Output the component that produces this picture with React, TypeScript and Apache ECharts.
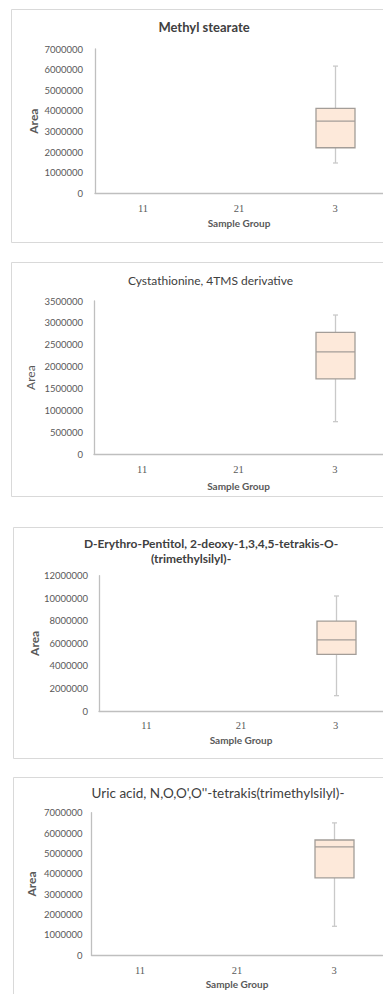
import React, { useEffect, useRef } from "react";
import * as echarts from "echarts";

const categories = ["11", "21", "3"];
const boxGroup = "3";

const titleLines = [
  ["Methyl stearate"],
  ["Cystathionine, 4TMS derivative"],
  ["D-Erythro-Pentitol, 2-deoxy-1,3,4,5-tetrakis-O-", "(trimethylsilyl)-"],
  ["Uric acid, N,O,O',O''-tetrakis(trimethylsilyl)-"],
];

// [min, Q1, median, Q3, max] for sample group "3"
const methylStearate = [1470000, 2210000, 3500000, 4120000, 6170000];
const cystathionine = [745000, 1720000, 2340000, 2785000, 3180000];
const pentitol = [1360000, 5030000, 6300000, 7980000, 10200000];
const uricAcid = [1420000, 3800000, 5320000, 5660000, 6500000];

const panelStats = [methylStearate, cystathionine, pentitol, uricAcid];
const yMax = [7000000, 3500000, 12000000, 7000000];
const yInterval = [1000000, 500000, 2000000, 1000000];

// layout (pixels)
const grids = [
  { left: 95, top: 49, width: 290, height: 144.3 },
  { left: 94, top: 301, width: 291, height: 153.3 },
  { left: 99, top: 575.7, width: 285, height: 135.3 },
  { left: 91.5, top: 812.7, width: 291, height: 142.5 },
];
const frames = [
  { x: 11, y: 9, h: 233 },
  { x: 11, y: 262, h: 234 },
  { x: 13, y: 527, h: 231 },
  { x: 13, y: 777, h: 300 },
];
const titleStyle = [
  [{ x: 204, y: 27, size: 13, weight: "bold" }],
  [{ x: 210.5, y: 280, size: 12, weight: "normal" }],
  [
    { x: 211, y: 543.3, size: 12, weight: "bold" },
    { x: 191, y: 558.3, size: 12, weight: "bold" },
  ],
  [{ x: 218, y: 793.3, size: 13.5, weight: "normal" }],
];
const areaGap = [56, 58, 59, 54];
const areaWeight = ["bold", "normal", "bold", "bold"];
const nameGapX = [25, 27, 24, 24];
const labelMarginX = [10, 10, 9, 10];
const labelMarginY = [12, 11, 11, 9];

const FONT = "Lato, 'Open Sans', sans-serif";
const TXT = "#595959";
const AXIS = "#bfbfbf";

function renderBox(params: any, api: any) {
  const x = api.value(0);
  const lo = api.coord([x, api.value(1)]);
  const q1 = api.coord([x, api.value(2)]);
  const med = api.coord([x, api.value(3)]);
  const q3 = api.coord([x, api.value(4)]);
  const hi = api.coord([x, api.value(5)]);
  const cx = Math.round(lo[0]) + 0.5;
  const w = 39;
  const cap = 2.5;
  const wStyle = { stroke: "#c9c9c9", lineWidth: 1.3 };
  const bStyle = { stroke: "#a39d98", lineWidth: 1.3 };
  return {
    type: "group",
    children: [
      { type: "line", shape: { x1: cx, y1: hi[1], x2: cx, y2: q3[1] }, style: wStyle },
      { type: "line", shape: { x1: cx, y1: q1[1], x2: cx, y2: lo[1] }, style: wStyle },
      { type: "line", shape: { x1: cx - cap, y1: hi[1], x2: cx + cap, y2: hi[1] }, style: wStyle },
      { type: "line", shape: { x1: cx - cap, y1: lo[1], x2: cx + cap, y2: lo[1] }, style: wStyle },
      {
        type: "rect",
        shape: { x: cx - w / 2, y: q3[1], width: w, height: q1[1] - q3[1] },
        style: { fill: "#fde9da", ...bStyle },
      },
      { type: "line", shape: { x1: cx - w / 2, y1: med[1], x2: cx + w / 2, y2: med[1] }, style: bStyle },
    ],
  };
}

export default function App() {
  const ref = useRef<HTMLDivElement>(null);
  useEffect(() => {
    if (!ref.current) return;
    const chart = echarts.init(ref.current, undefined, { renderer: "svg" });
    const graphics: any[] = [];
    frames.forEach((f) => {
      graphics.push({
        type: "rect",
        shape: { x: f.x + 0.5, y: f.y + 0.5, width: 420, height: f.h },
        style: { fill: "#fff", stroke: "#d9d9d9", lineWidth: 1 },
        z: -10,
      });
    });
    titleLines.forEach((lines, i) => {
      lines.forEach((t, j) => {
        const s = titleStyle[i][j];
        graphics.push({
          type: "text",
          x: s.x,
          y: s.y,
          style: {
            text: t,
            fill: "#404040",
            fontFamily: FONT,
            fontSize: s.size,
            fontWeight: s.weight,
            align: "center",
            verticalAlign: "middle",
          },
        });
      });
    });
    const option: any = {
      animation: false,
      backgroundColor: "#fff",
      grid: grids.map((g) => ({ ...g, containLabel: false })),
      xAxis: grids.map((g, i) => ({
        gridIndex: i,
        type: "category",
        data: categories,
        axisLine: { show: true, lineStyle: { color: AXIS, width: 1.3 } },
        axisTick: { show: false },
        splitLine: { show: false },
        axisLabel: { color: TXT, fontFamily: "'Liberation Serif', serif", fontSize: 10.5, margin: labelMarginX[i] },
        name: "Sample Group",
        nameLocation: "middle",
        nameGap: nameGapX[i],
        nameMoveOverlap: false,
        nameTextStyle: { color: TXT, fontFamily: FONT, fontSize: 10, fontWeight: "bold" },
      })),
      yAxis: grids.map((g, i) => ({
        gridIndex: i,
        type: "value",
        min: 0,
        max: yMax[i],
        interval: yInterval[i],
        axisLine: { show: true, lineStyle: { color: AXIS, width: 1.3 } },
        axisTick: { show: false },
        splitLine: { show: false },
        axisLabel: {
          color: TXT,
          fontFamily: FONT,
          fontSize: 9.5,
          margin: labelMarginY[i],
          formatter: (v: number) => String(v),
        },
        name: "Area",
        nameLocation: "middle",
        nameRotate: 90,
        nameGap: areaGap[i],
        nameMoveOverlap: false,
        nameTextStyle: { color: TXT, fontFamily: FONT, fontSize: 12, fontWeight: areaWeight[i] },
      })),
      series: panelStats.map((st, i) => ({
        type: "custom",
        xAxisIndex: i,
        yAxisIndex: i,
        renderItem: renderBox,
        encode: { x: 0, y: [1, 2, 3, 4, 5] },
        data: [[categories.indexOf(boxGroup), ...st]],
        clip: false,
      })),
      graphic: graphics,
    };
    chart.setOption(option);
    return () => chart.dispose();
  }, []);
  return (
    <div
      ref={ref}
      style={{ position: "absolute", left: 0, top: 0, width: 383, height: 994, background: "#fff" }}
    />
  );
}
